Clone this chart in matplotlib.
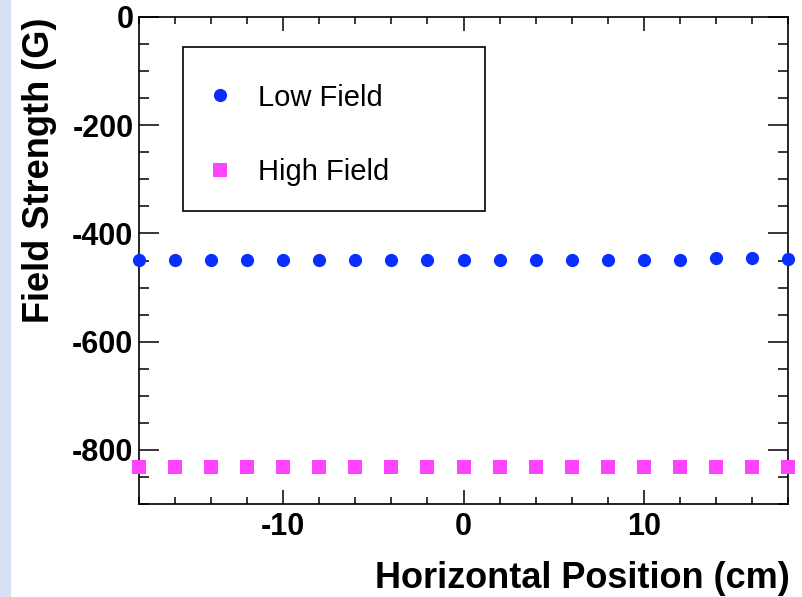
import numpy as np
import matplotlib
matplotlib.use("Agg")
import matplotlib.pyplot as plt
from matplotlib.patches import Rectangle
from matplotlib.ticker import MultipleLocator

plt.rcParams['font.family'] = ['Liberation Sans', 'DejaVu Sans']
plt.rcParams['axes.unicode_minus'] = False

# data
position = [-18, -16, -14, -12, -10, -8, -6, -4, -2, 0, 2, 4, 6, 8, 10, 12, 14, 16, 18]
low_field = [-449, -449, -449, -449, -449, -449, -449, -449, -449, -449,
             -449, -449, -449, -449, -449, -449, -446, -446, -447]
high_field = [-832] * 19

fig = plt.figure(figsize=(8.02, 5.97), dpi=100)
fig.patches.append(Rectangle((0, 0), 10 / 802, 1, transform=fig.transFigure,
                             color='#d6e2f4', zorder=0))

ax = fig.add_axes([139 / 802, 93 / 597, 649 / 802, 487 / 597])
ax.plot(position, low_field, 'o', color='#0a2eff', markersize=9.5,
        markeredgewidth=0, label='Low Field', clip_on=False, zorder=3)
ax.plot(position, high_field, 's', color='#ff44ff', markersize=10,
        markeredgewidth=0, label='High Field', clip_on=False, zorder=3)

ax.set_xlim(-18, 18)
ax.set_ylim(-900, 0)
ax.xaxis.set_major_locator(MultipleLocator(10))
ax.xaxis.set_minor_locator(MultipleLocator(2))
ax.yaxis.set_major_locator(MultipleLocator(200))
ax.yaxis.set_minor_locator(MultipleLocator(50))

for s in ax.spines.values():
    s.set_linewidth(1.2)
ax.tick_params(axis='both', which='both', direction='in', top=True, right=True,
               width=1.1, labelsize=22)
ax.tick_params(axis='y', which='major', length=14.5, pad=4)
ax.tick_params(axis='y', which='minor', length=7.5)
ax.tick_params(axis='x', which='major', length=10, pad=6)
ax.tick_params(axis='x', which='minor', length=5)
for lab in ax.get_xticklabels() + ax.get_yticklabels():
    lab.set_fontweight('bold')

# legend box drawn by hand, entries placed without frame
ax.add_patch(Rectangle((44 / 649, (504 - 211) / 487), 302 / 649, 164 / 487,
                       transform=ax.transAxes, fill=False, edgecolor='black',
                       linewidth=1.2, zorder=4))
leg = ax.legend(loc='upper left', bbox_to_anchor=(0.060, 0.938),
                fontsize=21, frameon=False, borderpad=1.25,
                labelspacing=1.6, handlelength=0.4,
                handletextpad=1.1, borderaxespad=0)

fig.text(40 / 802, 1 - 18 / 597, 'Field Strength (G)', rotation=90, ha='center',
         va='top', fontsize=26, fontweight='bold')
fig.text(790 / 802, 1 - 578 / 597, 'Horizontal Position (cm)', ha='right',
         va='center', fontsize=26, fontweight='bold')

fig.savefig('out.png', dpi=100)
